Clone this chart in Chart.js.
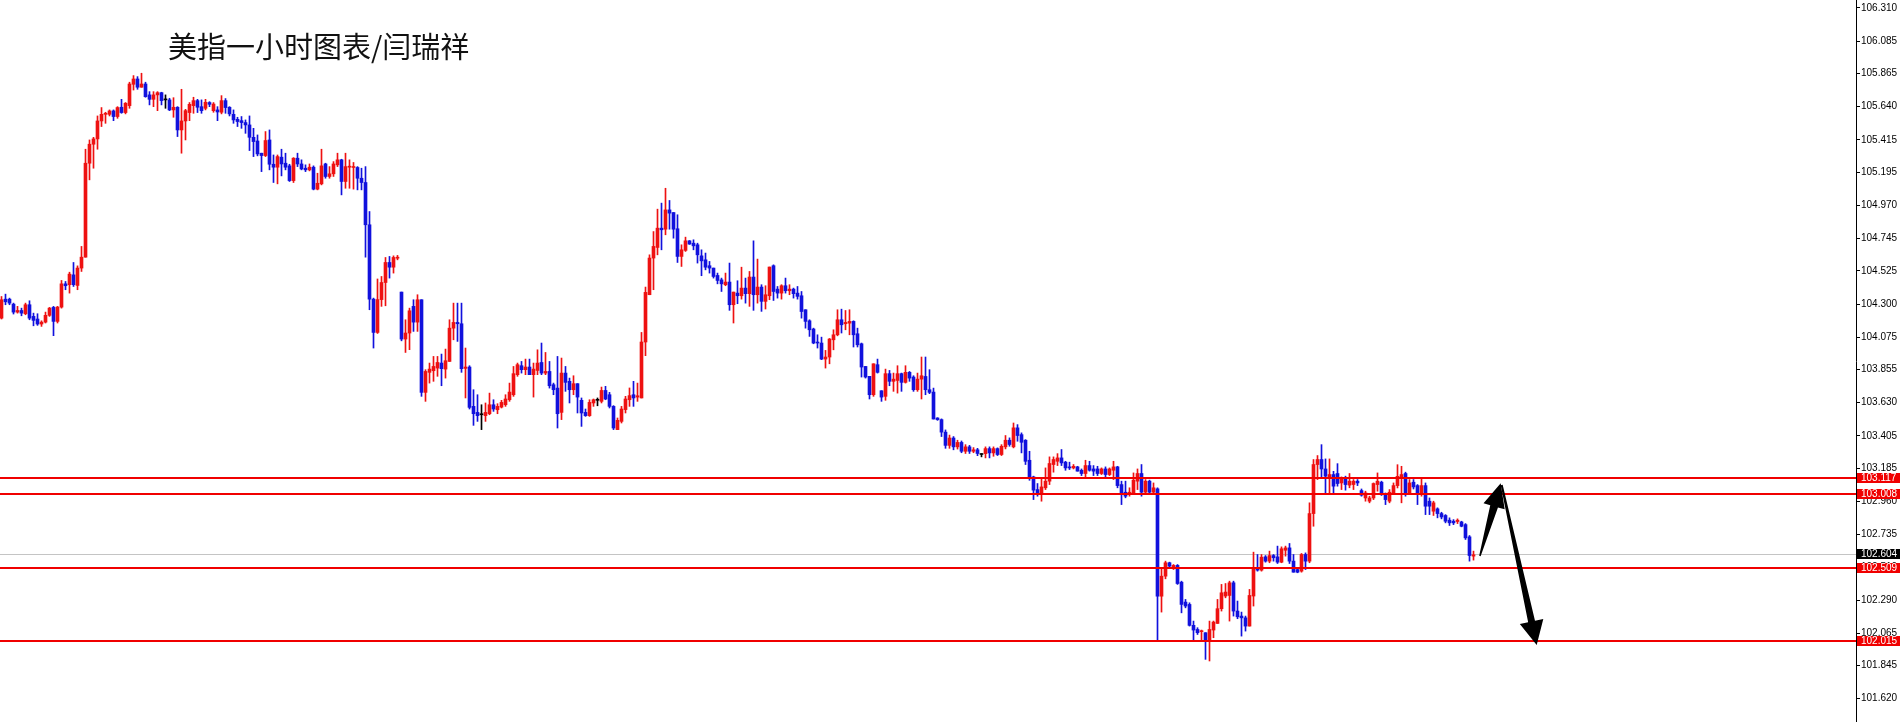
<!DOCTYPE html>
<html><head><meta charset="utf-8">
<script src="https://cdn.jsdelivr.net/npm/chart.js@4"></script>
<style>
html,body{margin:0;padding:0;background:#fff;overflow:hidden}
#wrap{position:relative;width:1904px;height:722px;background:#fff}
#title{position:absolute;left:168px;top:31px;font:29px/29px "Noto Sans CJK SC",sans-serif;color:#111;white-space:nowrap;z-index:2}
canvas{display:block}
</style></head><body>
<div id="wrap"><canvas id="c" width="1904" height="722"></canvas><div id="title">美指一小时图表/闫瑞祥</div></div>
<script>
const opens=[104.204,104.333,104.333,104.299,104.245,104.256,104.234,104.295,104.216,104.198,104.164,104.177,104.223,104.277,104.182,104.279,104.437,104.431,104.498,104.426,104.544,104.618,105.256,105.385,105.421,105.543,105.588,105.588,105.611,105.573,105.636,105.600,105.647,105.792,105.828,105.772,105.794,105.720,105.690,105.720,105.735,105.686,105.686,105.618,105.636,105.482,105.543,105.600,105.647,105.681,105.640,105.629,105.668,105.613,105.618,105.602,105.681,105.636,105.588,105.554,105.545,105.532,105.516,105.432,105.407,105.324,105.308,105.414,105.249,105.229,105.297,105.256,105.238,105.138,105.290,105.251,105.222,105.211,105.229,105.080,105.116,105.251,105.166,105.184,105.245,105.279,105.132,105.229,105.227,105.227,105.154,105.125,104.838,104.333,104.107,104.330,104.446,104.582,104.550,104.611,104.381,104.062,104.103,104.284,104.177,104.329,103.700,103.836,103.847,103.865,103.899,103.858,103.910,104.136,104.175,104.166,103.863,103.872,103.605,103.564,103.548,103.542,103.555,103.616,103.582,103.600,103.616,103.650,103.684,103.820,103.881,103.854,103.872,103.820,103.849,103.903,103.831,103.842,103.752,103.729,103.564,103.831,103.775,103.718,103.759,103.646,103.564,103.542,103.628,103.646,103.639,103.713,103.684,103.605,103.447,103.503,103.583,103.650,103.684,103.668,103.662,104.042,104.363,104.612,104.684,104.815,104.808,104.939,104.921,104.811,104.623,104.664,104.729,104.713,104.702,104.627,104.600,104.560,104.544,104.494,104.464,104.431,104.449,104.295,104.374,104.356,104.408,104.370,104.483,104.363,104.415,104.318,104.356,104.560,104.401,104.374,104.424,104.390,104.401,104.374,104.356,104.261,104.186,104.130,104.039,104.035,103.926,103.940,104.057,104.091,104.193,104.166,104.170,104.182,104.098,104.030,103.876,103.809,103.684,103.888,103.711,103.673,103.827,103.775,103.781,103.827,103.768,103.836,103.804,103.718,103.790,103.808,103.718,103.702,103.526,103.515,103.430,103.340,103.390,103.330,103.360,103.300,103.330,103.300,103.310,103.278,103.284,103.318,103.289,103.318,103.278,103.330,103.375,103.330,103.459,103.413,103.375,103.239,103.126,103.040,103.006,103.052,103.097,103.210,103.232,103.255,103.226,103.194,103.187,103.194,103.171,103.149,103.203,103.180,103.180,103.149,103.180,103.142,103.171,103.194,103.074,103.022,103.006,103.013,103.097,103.149,103.022,103.097,103.022,103.045,102.316,102.452,102.543,102.509,102.525,102.411,102.276,102.260,102.118,102.090,102.075,102.068,102.011,102.086,102.131,102.231,102.317,102.321,102.407,102.215,102.181,102.169,102.113,102.317,102.509,102.493,102.583,102.554,102.592,102.583,102.547,102.628,102.644,102.554,102.497,102.486,102.599,102.554,102.877,103.210,103.244,103.180,103.126,103.142,103.149,103.085,103.113,103.070,103.074,103.097,103.033,102.983,102.961,102.983,103.074,103.090,103.006,102.961,103.017,103.067,103.119,103.149,103.017,103.090,103.067,103.017,103.067,102.961,102.893,102.909,102.877,102.864,102.832,102.825,102.823,102.820,102.802,102.719,102.588];
const highs=[104.351,104.367,104.340,104.306,104.284,104.272,104.306,104.322,104.238,104.234,104.186,104.245,104.277,104.284,104.284,104.460,104.453,104.516,104.582,104.559,104.691,105.351,105.414,105.432,105.577,105.634,105.602,105.618,105.618,105.640,105.690,105.668,105.806,105.851,105.844,105.867,105.806,105.742,105.742,105.742,105.738,105.720,105.697,105.701,105.640,105.758,105.622,105.668,105.704,105.690,105.686,105.690,105.674,105.668,105.640,105.715,105.695,105.640,105.618,105.568,105.573,105.550,105.577,105.493,105.448,105.324,105.471,105.482,105.312,105.312,105.351,105.324,105.249,105.294,105.324,105.279,105.245,105.251,105.238,105.188,105.351,105.256,105.233,105.267,105.324,105.283,105.324,105.279,105.261,105.233,105.222,105.233,104.928,104.340,104.470,104.487,104.616,104.623,104.627,104.630,104.381,104.193,104.272,104.329,104.363,104.329,103.854,103.899,103.944,103.944,103.960,103.994,104.193,104.306,104.306,104.306,104.001,103.881,103.718,103.684,103.616,103.628,103.695,103.650,103.623,103.646,103.684,103.763,103.876,103.899,103.910,103.926,103.926,103.899,103.989,104.035,103.971,103.910,103.763,103.944,103.933,103.876,103.797,103.813,103.759,103.662,103.587,103.650,103.655,103.662,103.736,103.741,103.700,103.610,103.526,103.605,103.673,103.730,103.775,103.763,104.107,104.415,104.634,104.792,104.944,104.985,105.086,105.003,104.921,104.906,104.702,104.754,104.731,104.736,104.713,104.668,104.646,104.589,104.544,104.510,104.476,104.510,104.578,104.381,104.458,104.550,104.476,104.521,104.729,104.605,104.431,104.424,104.551,104.566,104.419,104.431,104.476,104.431,104.408,104.419,104.385,104.261,104.193,104.136,104.091,104.075,103.985,104.066,104.125,104.261,104.265,104.256,104.261,104.186,104.136,104.035,103.876,103.809,103.894,103.926,103.711,103.858,103.849,103.831,103.881,103.831,103.881,103.842,103.813,103.831,103.940,103.940,103.854,103.729,103.528,103.520,103.445,103.410,103.400,103.375,103.370,103.345,103.340,103.325,103.320,103.284,103.330,103.330,103.330,103.323,103.345,103.407,103.391,103.492,103.481,103.425,103.379,103.300,103.131,103.081,103.119,103.187,103.262,103.262,103.284,103.312,103.232,103.226,103.210,103.198,103.180,103.239,103.232,103.203,103.198,103.187,103.194,103.187,103.232,103.198,103.097,103.097,103.052,103.153,103.180,103.210,103.108,103.104,103.085,103.052,102.509,102.554,102.547,102.531,102.531,102.418,102.294,102.271,102.147,102.102,102.086,102.068,102.147,102.147,102.294,102.396,102.402,102.418,102.418,102.283,102.208,102.181,102.362,102.615,102.599,102.599,102.592,102.622,102.599,102.656,102.651,102.656,102.674,102.599,102.509,102.606,102.610,102.950,103.244,103.271,103.345,103.248,103.248,103.164,103.216,103.126,103.131,103.149,103.108,103.108,103.044,103.029,102.995,103.085,103.153,103.097,103.017,103.040,103.085,103.209,103.198,103.158,103.108,103.108,103.074,103.112,103.085,102.983,102.961,102.916,102.886,102.870,102.848,102.836,102.841,102.825,102.809,102.728,102.622];
const lows=[104.198,104.295,104.295,104.232,104.238,104.220,104.227,104.193,104.152,104.155,104.148,104.171,104.216,104.085,104.171,104.272,104.397,104.374,104.419,104.397,104.521,104.618,105.143,105.222,105.351,105.505,105.527,105.577,105.545,105.561,105.595,105.591,105.629,105.753,105.758,105.772,105.704,105.652,105.640,105.613,105.652,105.629,105.613,105.568,105.437,105.324,105.414,105.545,105.595,105.600,105.595,105.618,105.640,105.602,105.545,105.591,105.595,105.577,105.527,105.505,105.493,105.459,105.342,105.301,105.306,105.199,105.301,105.211,105.125,105.116,105.170,105.211,105.132,105.125,105.233,105.211,105.199,105.204,105.075,105.075,105.109,105.154,105.154,105.166,105.233,105.041,105.086,105.086,105.080,105.075,105.075,104.618,104.261,104.001,104.100,104.284,104.288,104.476,104.510,104.600,104.050,103.971,103.990,104.114,104.114,103.673,103.639,103.763,103.775,103.809,103.745,103.797,103.910,104.057,104.046,103.836,103.662,103.587,103.476,103.503,103.447,103.503,103.548,103.571,103.555,103.594,103.605,103.639,103.673,103.809,103.831,103.820,103.820,103.668,103.820,103.820,103.820,103.729,103.684,103.458,103.515,103.707,103.628,103.684,103.560,103.469,103.537,103.537,103.605,103.609,103.628,103.650,103.594,103.447,103.447,103.492,103.560,103.605,103.605,103.639,103.662,103.949,104.363,104.397,104.634,104.668,104.770,104.808,104.747,104.582,104.555,104.657,104.705,104.668,104.578,104.492,104.532,104.510,104.476,104.437,104.385,104.424,104.257,104.171,104.302,104.333,104.306,104.284,104.257,104.306,104.250,104.266,104.329,104.324,104.340,104.333,104.374,104.363,104.340,104.333,104.204,104.136,104.080,104.030,104.001,103.922,103.865,103.894,103.989,104.084,104.103,104.125,104.091,104.008,104.008,103.804,103.797,103.655,103.673,103.831,103.639,103.646,103.745,103.707,103.695,103.707,103.763,103.775,103.707,103.707,103.655,103.684,103.691,103.519,103.510,103.400,103.320,103.320,103.310,103.315,103.290,103.285,103.285,103.290,103.270,103.262,103.255,103.255,103.266,103.271,103.271,103.316,103.334,103.323,103.368,103.289,103.210,103.103,102.972,102.995,102.961,103.040,103.074,103.158,103.203,103.203,103.171,103.176,103.180,103.165,103.135,103.126,103.165,103.135,103.135,103.142,103.126,103.135,103.108,103.052,102.938,102.984,102.995,103.006,103.040,102.995,103.013,103.013,103.013,102.011,102.208,102.434,102.509,102.497,102.396,102.203,102.237,102.113,102.011,102.056,102.011,101.887,101.876,102.034,102.131,102.215,102.305,102.147,102.181,102.163,102.045,102.079,102.113,102.249,102.486,102.486,102.547,102.543,102.554,102.538,102.543,102.588,102.538,102.479,102.475,102.479,102.497,102.543,102.791,103.108,103.119,103.018,103.013,103.018,103.063,103.040,103.036,103.052,103.040,103.067,102.995,102.961,102.950,102.972,103.029,103.000,102.938,102.950,103.006,103.051,102.950,102.995,103.006,103.044,102.938,102.995,102.870,102.870,102.864,102.848,102.841,102.814,102.796,102.802,102.809,102.787,102.701,102.554,102.561];
const closes=[104.329,104.315,104.306,104.245,104.256,104.238,104.295,104.204,104.189,104.164,104.177,104.223,104.272,104.182,104.279,104.437,104.424,104.503,104.431,104.544,104.618,105.256,105.385,105.421,105.543,105.588,105.595,105.611,105.573,105.634,105.600,105.663,105.794,105.828,105.772,105.794,105.708,105.690,105.720,105.735,105.681,105.686,105.618,105.636,105.482,105.543,105.613,105.656,105.681,105.636,105.613,105.670,105.656,105.658,105.604,105.681,105.634,105.591,105.550,105.539,105.532,105.516,105.432,105.403,105.319,105.308,105.410,105.249,105.229,105.301,105.251,105.229,105.138,105.290,105.251,105.217,105.211,105.229,105.080,105.120,105.238,105.166,105.184,105.251,105.279,105.132,105.233,105.236,105.233,105.154,105.125,104.838,104.333,104.107,104.330,104.446,104.582,104.550,104.616,104.618,104.062,104.103,104.254,104.177,104.329,103.700,103.842,103.858,103.876,103.903,103.861,103.915,104.136,104.175,104.166,103.861,103.872,103.598,103.555,103.542,103.548,103.564,103.616,103.587,103.605,103.632,103.655,103.702,103.827,103.888,103.854,103.872,103.820,103.858,103.899,103.831,103.842,103.745,103.718,103.555,103.831,103.768,103.718,103.759,103.668,103.560,103.542,103.632,103.650,103.646,103.713,103.655,103.605,103.458,103.510,103.587,103.655,103.678,103.662,103.677,104.042,104.379,104.612,104.691,104.815,104.804,104.939,104.917,104.808,104.623,104.668,104.729,104.707,104.695,104.634,104.593,104.550,104.544,104.487,104.460,104.437,104.449,104.295,104.381,104.356,104.408,104.370,104.483,104.363,104.415,104.318,104.363,104.551,104.385,104.374,104.424,104.390,104.401,104.370,104.352,104.249,104.182,104.125,104.035,104.035,103.926,103.940,104.062,104.091,104.193,104.159,104.175,104.182,104.091,104.023,103.872,103.804,103.684,103.894,103.836,103.668,103.827,103.775,103.790,103.827,103.768,103.836,103.797,103.718,103.790,103.813,103.718,103.700,103.519,103.515,103.430,103.340,103.390,103.330,103.360,103.300,103.330,103.300,103.310,103.285,103.278,103.318,103.289,103.318,103.278,103.334,103.375,103.346,103.459,103.407,103.361,103.232,103.119,103.036,103.006,103.058,103.097,103.217,103.244,103.255,103.221,103.187,103.187,103.198,103.165,103.149,103.203,103.171,103.165,103.149,103.180,103.142,103.180,103.194,103.067,103.013,102.995,103.022,103.104,103.149,103.022,103.097,103.022,103.052,102.316,102.452,102.543,102.520,102.525,102.402,102.260,102.249,102.118,102.086,102.068,102.079,102.018,102.090,102.140,102.231,102.339,102.344,102.407,102.215,102.176,102.169,102.113,102.321,102.509,102.493,102.581,102.554,102.592,102.577,102.547,102.638,102.644,102.554,102.479,102.479,102.599,102.554,102.877,103.210,103.244,103.180,103.131,103.142,103.063,103.081,103.113,103.074,103.097,103.097,103.085,103.002,103.017,102.983,103.081,103.097,103.006,102.972,103.022,103.067,103.130,103.142,103.017,103.085,103.058,103.017,103.067,102.927,102.927,102.950,102.877,102.854,102.825,102.814,102.814,102.832,102.791,102.712,102.592,102.597];

const tickValues=[106.310,106.085,105.865,105.640,105.415,105.195,104.970,104.745,104.525,104.300,104.075,103.855,103.630,103.405,103.185,102.960,102.735,102.510,102.290,102.065,101.845,101.620];
const levels=[103.117,103.008,102.509,102.015];
const currentPrice=102.604;
const arrowPaths=[
  {from:[369.6,102.589],to:[374.8,103.083],tailW:1.5,baseW:8,headL:24,headW:22},
  {from:[375.05,103.071],to:[383.8,101.985],tailW:2,baseW:7,headL:24,headW:24}
];

const RED='#ee1111', BLUE='#1111dd', DOJI='#000000';
const AXIS_FONT='Tahoma,"Liberation Sans",Arial,sans-serif';
const labels=opens.map((_,i)=>i);
const colors=opens.map((o,i)=>closes[i]>o?RED:(closes[i]<o?BLUE:DOJI));

const overlay={
  id:'overlay',
  beforeDatasetsDraw(chart){
    const {ctx,chartArea:a,scales:{y}}=chart;
    const py=Math.round(y.getPixelForValue(currentPrice));
    ctx.save();ctx.fillStyle='#c4c4c4';ctx.fillRect(a.left,py,a.right-a.left,1);ctx.restore();
  },
  afterDatasetsDraw(chart){
    const {ctx,chartArea:a,scales:{x,y}}=chart;
    ctx.save();
    ctx.fillStyle='#f00000';
    levels.forEach(v=>{const py=Math.round(y.getPixelForValue(v));ctx.fillRect(a.left,py-1,a.right-a.left,2);});
    ctx.fillStyle='#000';
    arrowPaths.forEach(ar=>{
      const x0=x.getPixelForValue(ar.from[0]),y0=y.getPixelForValue(ar.from[1]);
      const x1=x.getPixelForValue(ar.to[0]),y1=y.getPixelForValue(ar.to[1]);
      const dx=x1-x0,dy=y1-y0,len=Math.hypot(dx,dy);
      const ux=dx/len,uy=dy/len,nx=-uy,ny=ux;
      const bx=x1-ux*ar.headL,by=y1-uy*ar.headL;
      ctx.beginPath();
      ctx.moveTo(x0+nx*ar.tailW/2,y0+ny*ar.tailW/2);
      ctx.lineTo(bx+nx*ar.baseW/2,by+ny*ar.baseW/2);
      ctx.lineTo(bx+nx*ar.headW/2,by+ny*ar.headW/2);
      ctx.lineTo(x1,y1);
      ctx.lineTo(bx-nx*ar.headW/2,by-ny*ar.headW/2);
      ctx.lineTo(bx-nx*ar.baseW/2,by-ny*ar.baseW/2);
      ctx.lineTo(x0-nx*ar.tailW/2,y0-ny*ar.tailW/2);
      ctx.closePath();ctx.fill();
    });
    ctx.restore();
  },
  afterDraw(chart){
    const {ctx,chartArea:a,scales:{y}}=chart;
    ctx.save();
    ctx.font='10px '+AXIS_FONT;ctx.textBaseline='middle';ctx.textAlign='left';
    const box=(v,bg)=>{
      const py=Math.round(y.getPixelForValue(v));
      ctx.fillStyle=bg;ctx.fillRect(a.right+1,py-5,43,10);
      ctx.fillStyle='#fff';ctx.fillText(v.toFixed(3),a.right+5,py+0.5);
    };
    levels.forEach(v=>box(v,'#f00000'));
    box(currentPrice,'#000');
    ctx.restore();
  }
};

new Chart(document.getElementById('c'),{
  type:'bar',
  data:{labels,datasets:[
    {label:'wick',data:lows.map((l,i)=>[l,highs[i]]),backgroundColor:colors,borderWidth:0,barThickness:1,grouped:false,order:2},
    {label:'body',data:opens.map((o,i)=>[Math.min(o,closes[i]),Math.max(o,closes[i])]),backgroundColor:colors,borderWidth:0,barThickness:3,minBarLength:1,grouped:false,order:1}
  ]},
  options:{
    responsive:false,animation:false,events:[],
    layout:{padding:0},
    plugins:{legend:{display:false},tooltip:{enabled:false},title:{display:false}},
    scales:{
      x:{type:'linear',min:-0.375,max:463.625,display:false,offset:false},
      y:{position:'right',min:101.4617,max:106.3643,
        afterBuildTicks:s=>{s.ticks=tickValues.map(v=>({value:v}));},
        afterFit:s=>{s.width=48;s.paddingTop=0;s.paddingBottom=0;},
        grid:{drawOnChartArea:false,drawTicks:true,tickLength:4,tickColor:'#000',tickWidth:1},
        border:{display:true,color:'#000',width:1},
        ticks:{padding:1,color:'#000',autoSkip:false,maxRotation:0,font:{family:AXIS_FONT,size:10},callback:v=>Number(v).toFixed(3)}
      }
    }
  },
  plugins:[overlay]
});
</script>
</body></html>
